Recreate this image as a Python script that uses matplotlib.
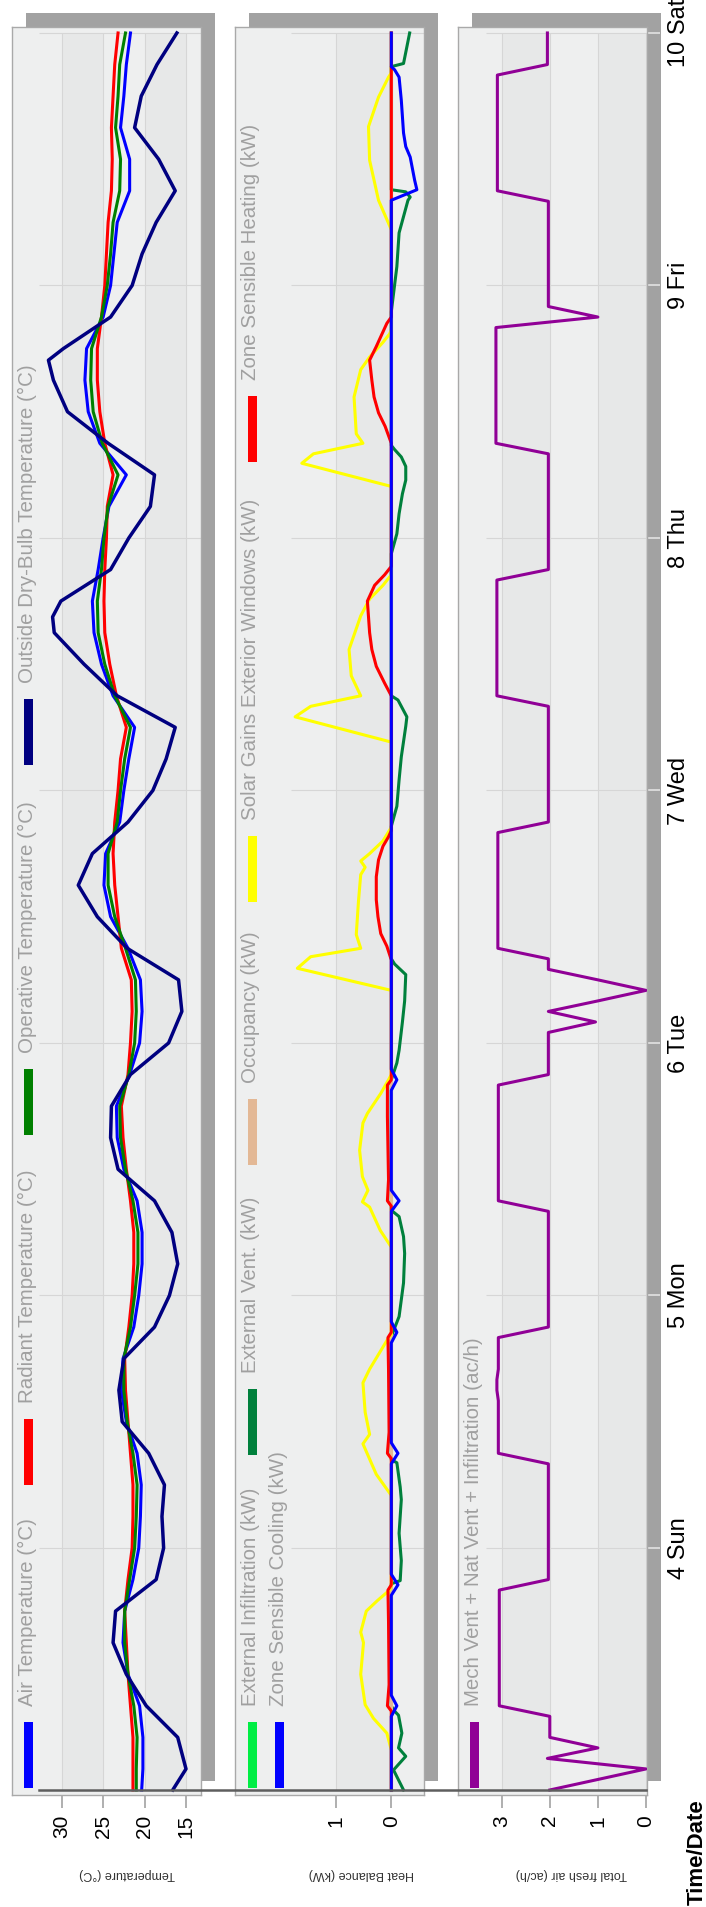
import matplotlib
matplotlib.use("Agg")
import matplotlib.pyplot as plt
from matplotlib.patches import Rectangle
from matplotlib.lines import Line2D

plt.rcParams['font.family'] = ['Liberation Sans', 'DejaVu Sans']

# ---------------------------------------------------------------- data
DAY_LABELS = ["4 Sun", "5 Mon", "6 Tue", "7 Wed", "8 Thu", "9 Fri", "10 Sat"]
DAY_HOURS = [24, 48, 72, 96, 120, 144, 168]

TEMP_TICKS = [30, 25, 20, 15]
HEAT_TICKS = [1, 0]
AIR_TICKS = [3, 2, 1, 0]

# hours since day 3 00:00 (first sample 01:00, then every 3 h)
TEMP_HOURS = [1] + list(range(3, 169, 3))

OUTSIDE_HOURS = [1, 3, 6, 9, 12, 15, 18, 21,
                 24, 27, 30, 33, 36, 39, 42, 45,
                 48, 51, 54, 57, 60, 63, 66, 69,
                 72, 75, 78, 81, 84, 87, 90, 93,
                 96, 99, 102, 105, 108, 111, 112.5, 114, 117,
                 120, 123, 126, 129, 132, 135, 136.9, 138, 141,
                 144, 147, 150, 153, 156, 159, 162, 165,
                 168]
OUTSIDE = [16.6, 15.0, 16.0, 19.8, 22.2, 23.8, 23.5, 18.6,
           17.7, 17.9, 17.6, 19.5, 22.7, 23.1, 22.5, 18.8,
           17.0, 16.0, 16.7, 18.8, 23.2, 24.1, 24.0, 21.7,
           17.1, 15.5, 15.9, 22.1, 25.7, 28.0, 26.3, 22.0,
           19.0, 17.4, 16.3, 23.3, 27.3, 30.9, 31.1, 30.1, 24.1,
           21.9, 19.3, 18.8, 24.4, 29.3, 31.0, 31.6, 29.8, 24.1,
           21.5, 20.3, 18.6, 16.3, 18.3, 21.2, 20.4, 18.5,
           16.1]
RADIANT = [21.4, 21.4, 21.4, 21.7, 22.0, 22.2, 22.4, 22.0,
           21.5, 21.4, 21.4, 21.7, 22.0, 22.3, 22.4, 21.9,
           21.5, 21.3, 21.3, 21.7, 22.2, 22.6, 22.8, 22.0,
           21.7, 21.5, 21.6, 22.8, 23.2, 23.6, 23.8, 23.6,
           23.2, 22.9, 22.2, 23.4, 24.2, 24.8, 24.9, 24.8,
           24.6, 24.5, 23.8, 24.8, 25.4, 25.7, 25.7, 25.2,
           24.8, 24.6, 24.4, 24.0, 23.9, 24.0, 23.8, 23.6,
           23.2]
OPERATIVE = [21.0, 21.0, 20.9, 21.3, 22.0, 22.4, 22.4, 21.8,
             21.2, 21.0, 20.9, 21.4, 22.1, 22.5, 22.5, 21.7,
             21.2, 20.8, 20.8, 21.4, 22.3, 22.9, 23.0, 21.9,
             21.2, 21.0, 21.1, 22.3, 23.6, 24.4, 24.4, 23.3,
             22.9, 22.4, 21.7, 23.6, 24.8, 25.6, 25.7, 25.2,
             24.9, 24.4, 23.2, 25.1, 26.2, 26.5, 26.4, 25.2,
             24.5, 24.1, 23.8, 23.0, 22.9, 23.5, 23.2, 23.0,
             22.3]
AIR = [20.35, 20.2, 20.2, 20.6, 22.0, 22.6, 22.4, 21.4,
       20.7, 20.5, 20.4, 20.9, 22.2, 22.8, 22.6, 21.3,
       20.7, 20.3, 20.3, 20.9, 22.5, 23.3, 23.4, 21.8,
       20.6, 20.3, 20.5, 22.0, 24.1, 24.9, 24.7, 23.0,
       22.5, 21.9, 21.2, 23.8, 25.2, 26.1, 26.3, 25.6,
       25.0, 24.3, 22.2, 25.4, 26.8, 27.2, 27.0, 25.0,
       24.1, 23.7, 23.3, 21.8, 21.8, 22.9, 22.5, 22.2,
       21.7]

# heat balance series: (hour, kW) break points
ZERO_T = [1, 168]
EXT_INF = [0.0, 0.0]
OCCUPANCY = [0.0, 0.0]

VENT_T = [1, 2.9, 4.2, 5.0, 6.4, 8.1, 8.6, 9,
          20.6, 20.9, 22.8, 25.4, 28.6, 29.8, 32.1, 32.4,
          44.1, 46, 47.6, 49.2, 52, 53.6, 55.5, 56.1,
          68.5, 70.1, 71.3, 74, 76, 78.5, 79.5, 80,
          92.6, 94.5, 97, 99.2, 102.1, 103, 104.6, 105,
          118.5, 120.4, 122.3, 124.2, 125.5, 126.8, 127.7, 128.4, 128.8,
          141.5, 145.8, 149, 152.1, 152.4, 152.9, 153.1,
          164.8, 165.1, 168]
EXT_VENT = [-0.22, -0.04, -0.26, -0.13, -0.19, -0.13, -0.04, 0,
            0, -0.16, -0.18, -0.14, -0.18, -0.16, -0.1, 0,
            0, -0.14, -0.18, -0.22, -0.24, -0.22, -0.14, 0,
            0, -0.1, -0.14, -0.2, -0.24, -0.26, -0.06, 0,
            0, -0.1, -0.14, -0.18, -0.26, -0.28, -0.12, 0,
            0, -0.1, -0.14, -0.2, -0.26, -0.26, -0.18, -0.06, 0,
            0, -0.1, -0.14, -0.3, -0.34, -0.26, 0,
            0, -0.22, -0.33]

SOLAR_T = [1, 4.8, 6.4, 7.8, 9.1, 12, 15, 16, 18, 19, 20, 20.5,
           29, 31, 33.9, 34.8, 36.9, 39.7, 41, 43.8, 44.3,
           52.6, 54.2, 56.4, 56.9, 58, 59.3, 61.8, 64.4, 65.3, 67.2, 68.5, 69,
           77, 79.1, 80.2, 81, 82.3, 85.5, 88, 88.7, 89.3, 90, 91.2, 92.5,
           100.6, 103, 104, 105, 106.9, 109.4, 112.6, 114.2, 115.5, 116.5,
           124.9, 127.1, 128, 129, 129.9, 133.4, 136, 136.9, 137.2, 138.6, 139.4, 139.8,
           149.3, 152.1, 155.9, 159.1, 161.9, 163.8, 164.2, 168]
SOLAR = [0, 0, 0.08, 0.32, 0.47, 0.55, 0.5, 0.55, 0.45, 0.25, 0.03, 0,
         0, 0.27, 0.51, 0.39, 0.47, 0.51, 0.39, 0.07, 0,
         0, 0.2, 0.39, 0.52, 0.42, 0.52, 0.57, 0.51, 0.43, 0.19, 0.05, 0,
         0, 1.69, 1.45, 0.55, 0.63, 0.59, 0.55, 0.47, 0.55, 0.39, 0.15, 0,
         0, 1.73, 1.45, 0.55, 0.72, 0.76, 0.55, 0.39, 0.15, 0,
         0, 1.61, 1.4, 0.51, 0.63, 0.67, 0.55, 0.43, 0.39, 0.15, 0.03, 0,
         0, 0.23, 0.39, 0.41, 0.23, 0.05, 0, 0]

HEAT_T = [1, 8.5, 9, 11, 17, 20, 20.5,
          32.5, 33, 35, 41, 44, 44.5,
          56.5, 57, 59, 65, 68, 68.5,
          79.9, 81.2, 82.4, 84, 85.6, 87.8, 89.4, 90.7, 91.6, 92.2,
          105, 106.2, 107.8, 109.4, 111, 114, 115.5, 116.5, 117.3,
          129, 130.6, 131.9, 133.4, 135, 136.9, 138.2, 140.4, 141, 168]
HEATING = [0, 0, 0.07, 0.04, 0.05, 0.06, 0,
           0, 0.07, 0.04, 0.05, 0.06, 0,
           0, 0.07, 0.05, 0.07, 0.07, 0,
           0, 0.08, 0.19, 0.24, 0.27, 0.27, 0.23, 0.15, 0.05, 0,
           0, 0.12, 0.27, 0.35, 0.39, 0.43, 0.3, 0.12, 0,
           0, 0.11, 0.23, 0.31, 0.35, 0.39, 0.27, 0.08, 0, 0]

COOL_T = [1, 8, 9, 10, 19.5, 20.5, 21.5,
          32, 33, 34, 43.5, 44.5, 45.5,
          56, 57, 58, 67.5, 68.5, 69.5,
          152.1, 153.1, 154, 156.2, 157.2, 158.5, 161.6, 163.8, 164.5, 164.8, 168]
COOLING = [0, 0, -0.1, 0, 0, -0.12, 0,
           0, -0.12, 0, 0, -0.1, 0,
           0, -0.14, 0, 0, -0.1, 0,
           0, -0.46, -0.42, -0.34, -0.26, -0.22, -0.18, -0.14, -0.06, 0, 0]

# total fresh air, hourly (01:00 day 3 ... 00:00 day 10)
FRESH_HOURS = list(range(1, 169))
FRESH_D3 = [2.0, 1.0, 0.0, 2.05, 1.0, 2.0, 2.0, 2.0,
            3.05, 3.05, 3.05, 3.05, 3.05, 3.05, 3.05, 3.05, 3.05, 3.05, 3.05, 3.05,
            2.03, 2.03, 2.03, 2.03]
FRESH_D4 = [2.03, 2.03, 2.03, 2.03, 2.03, 2.03, 2.03, 2.03,
            3.07, 3.07, 3.07, 3.07, 3.07, 3.07, 3.1, 3.1, 3.07, 3.07, 3.07, 3.07,
            2.03, 2.03, 2.03, 2.03]
FRESH_D5 = [2.03, 2.03, 2.03, 2.03, 2.03, 2.03, 2.03, 2.03,
            3.07, 3.07, 3.07, 3.07, 3.07, 3.07, 3.07, 3.07, 3.07, 3.07, 3.07, 3.07,
            2.03, 2.03, 2.03, 2.03]
FRESH_D6 = [2.03, 1.05, 2.03, 1.0, 0.0, 1.0, 2.03, 2.03,
            3.08, 3.08, 3.08, 3.08, 3.08, 3.08, 3.08, 3.08, 3.08, 3.08, 3.08, 3.08,
            2.03, 2.03, 2.03, 2.03]
FRESH_D7 = [2.03, 2.03, 2.03, 2.03, 2.03, 2.03, 2.03, 2.03,
            3.1, 3.1, 3.1, 3.1, 3.1, 3.1, 3.1, 3.1, 3.1, 3.1, 3.1, 3.1,
            2.03, 2.03, 2.03, 2.03]
FRESH_D8 = [2.03, 2.03, 2.03, 2.03, 2.03, 2.03, 2.03, 2.03,
            3.12, 3.12, 3.12, 3.12, 3.12, 3.12, 3.12, 3.12, 3.12, 3.12, 3.12, 3.12,
            1.0, 2.03, 2.03, 2.03]
FRESH_D9 = [2.03, 2.03, 2.03, 2.03, 2.03, 2.03, 2.03, 2.03,
            3.09, 3.09, 3.09, 3.09, 3.09, 3.09, 3.09, 3.09, 3.09, 3.09, 3.09, 3.09,
            2.05, 2.05, 2.05, 2.05]
FRESH_AIR = FRESH_D3 + FRESH_D4 + FRESH_D5 + FRESH_D6 + FRESH_D7 + FRESH_D8 + FRESH_D9

# ---------------------------------------------------------------- layout / style
W, H, DPI = 706, 1907, 100
T0_Y, PXH = 1800.5, 10.521          # pixel row of t=0 and pixels per hour
FRAME_TOP, FRAME_BOT = 27, 1795
SHADOW = 14
T_FIRST, T_LAST = 1, 168

BG = '#eeefef'
BAND = '#e7e8e8'
GRID = '#d6d6d6'
FRAME_C = '#a9a9a9'
SHADOW_C = '#a2a2a2'
LEG_TXT = '#a0a0a0'

C_AIR, C_RAD, C_OP, C_OUT = '#0000ff', '#ff0000', '#008000', '#000080'
C_INF, C_VENT, C_OCC, C_SOL, C_HEAT, C_COOL = '#00ee44', '#00803c', '#e3b895', '#ffff00', '#ff0000', '#0000ff'
C_FRESH = '#900096'
LW = 2.2

fig = plt.figure(figsize=(W / DPI, H / DPI), dpi=DPI)
fig.patch.set_facecolor('white')


def fy(y):
    return 1 - y / H


PANELS = [
    dict(x0=12, x1=201, a=310.3, b=-8.2867, left=39, ticks=TEMP_TICKS,
         bands=[(30, 25), (20, 15)], label="Temperature (°C)", label_x=127),
    dict(x0=235, x1=424, a=391.3, b=-55.6, left=291, ticks=HEAT_TICKS,
         bands=[(1, 0)], label="Heat Balance (kW)", label_x=361),
    dict(x0=458, x1=647, a=646.0, b=-48.1, left=486, ticks=AIR_TICKS,
         bands=[(3, 2), (1, 0)], label="Total fresh air (ac/h)", label_x=571),
]

axes = []
for p in PANELS:
    x0, x1 = p['x0'], p['x1']
    # drop shadow
    fig.add_artist(Rectangle(((x0 + SHADOW) / W, fy(FRAME_BOT - SHADOW)), (x1 - x0) / W,
                             (FRAME_BOT - FRAME_TOP) / H, transform=fig.transFigure,
                             facecolor=SHADOW_C, edgecolor='none', zorder=-1))
    ax = fig.add_axes([x0 / W, fy(FRAME_BOT), (x1 - x0) / W, (FRAME_BOT - FRAME_TOP) / H])
    v = lambda px, p=p: (px - p['a']) / p['b']
    ax.set_xlim(v(x0), v(x1))
    ax.set_ylim((T0_Y - FRAME_BOT) / PXH, (T0_Y - FRAME_TOP) / PXH)
    ax.set_facecolor(BG)
    for s in ax.spines.values():
        s.set_color(FRAME_C)
        s.set_linewidth(1.0)
    for lo, hi in p['bands']:
        ax.fill_betweenx([T_FIRST, T_LAST], lo, hi, color=BAND, lw=0, zorder=0.3)
    ax.vlines(p['ticks'], T_FIRST, T_LAST, color=GRID, lw=0.8, zorder=0.5)
    ax.hlines(DAY_HOURS, v(p['left']), v(x1), color=GRID, lw=0.8, zorder=0.5)
    ax.set_xticks(p['ticks'])
    ax.set_xticklabels([str(t) for t in p['ticks']])
    ax.tick_params(axis='x', direction='out', length=9.4, width=1.1, color='#9a9a9a',
                   pad=5, labelsize=15, labelrotation=90)
    ax.set_yticks([])
    fig.text(p['label_x'] / W, fy(1874), p['label'], rotation=180, ha='center', va='center',
             fontsize=9, color='#333333')
    axes.append(ax)

ax1, ax2, ax3 = axes

# temperatures
ax1.plot(AIR, TEMP_HOURS, color=C_AIR, lw=LW, zorder=3)
ax1.plot(RADIANT, TEMP_HOURS, color=C_RAD, lw=LW, zorder=3)
ax1.plot(OPERATIVE, TEMP_HOURS, color=C_OP, lw=LW, zorder=3)
ax1.plot(OUTSIDE, OUTSIDE_HOURS, color=C_OUT, lw=LW + 0.3, zorder=3)

# heat balance
ax2.plot(EXT_INF, ZERO_T, color=C_INF, lw=LW, zorder=3)
ax2.plot(EXT_VENT, VENT_T, color=C_VENT, lw=LW, zorder=3)
ax2.plot(OCCUPANCY, ZERO_T, color=C_OCC, lw=LW, zorder=3)
ax2.plot(SOLAR, SOLAR_T, color=C_SOL, lw=LW, zorder=3)
ax2.plot(HEATING, HEAT_T, color=C_HEAT, lw=LW, zorder=3)
ax2.plot(COOLING, COOL_T, color=C_COOL, lw=LW, zorder=3)

# fresh air
ax3.plot(FRESH_AIR, FRESH_HOURS, color=C_FRESH, lw=LW, zorder=3)

# day labels on the right of the last panel
ax3.yaxis.set_ticks_position('right')
ax3.set_yticks(DAY_HOURS, labels=DAY_LABELS)
ax3.tick_params(axis='y', direction='out', length=9.4, width=1.2, color='#e2e2e2',
                pad=6, labelsize=17, labelrotation=90, labelright=True, labelleft=False)
for tk in ax3.yaxis.get_major_ticks():
    tk.label2.set_verticalalignment('center')

# common time axis line
y_axis = T0_Y - T_FIRST * PXH
fig.add_artist(Line2D([39 / W, 646 / W], [fy(y_axis), fy(y_axis)], transform=fig.transFigure,
                      color='#5e5e5e', lw=1.8, zorder=5))

# legends
def legend_entry(xc, ybot, color, text):
    fig.add_artist(Rectangle(((xc - 4.5) / W, fy(ybot)), 9 / W, 66 / H, transform=fig.transFigure,
                             facecolor=color, edgecolor='none', zorder=6))
    fig.text((xc - 1) / W, fy(ybot - 66 - 16), text, rotation=90, ha='center', va='bottom',
             fontsize=14.8, color=LEG_TXT, zorder=6)


for c, t, yb in [(C_AIR, 'Air Temperature (°C)', 1788),
                 (C_RAD, 'Radiant Temperature (°C)', 1485),
                 (C_OP, 'Operative Temperature (°C)', 1135),
                 (C_OUT, 'Outside Dry-Bulb Temperature (°C)', 765)]:
    legend_entry(28.5, yb, c, t)
for c, t, yb in [(C_INF, 'External Infiltration (kW)', 1788),
                 (C_VENT, 'External Vent. (kW)', 1455),
                 (C_OCC, 'Occupancy (kW)', 1165),
                 (C_SOL, 'Solar Gains Exterior Windows (kW)', 902),
                 (C_HEAT, 'Zone Sensible Heating (kW)', 462)]:
    legend_entry(252, yb, c, t)
legend_entry(279.5, 1788, C_COOL, 'Zone Sensible Cooling (kW)')
legend_entry(474.5, 1788, C_FRESH, 'Mech Vent + Nat Vent + Infiltration (ac/h)')

fig.text(697 / W, fy(1905), 'Time/Date', rotation=90, ha='center', va='bottom',
         fontsize=16, fontweight='bold', color='black')

fig.savefig('out.png', dpi=DPI, facecolor='white')
